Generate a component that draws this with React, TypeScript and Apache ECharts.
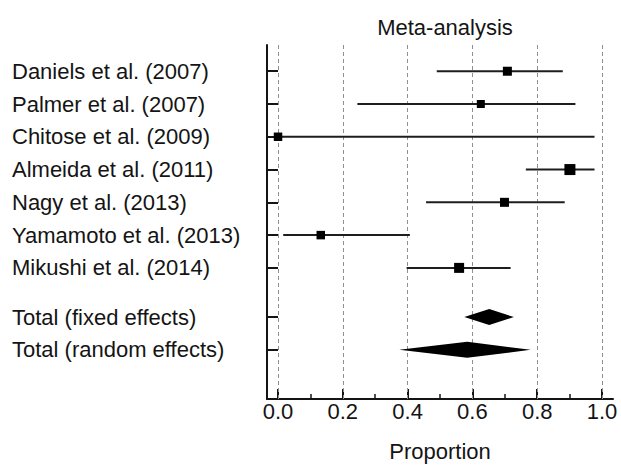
import React, { useEffect, useRef } from "react";
import * as echarts from "echarts";

const studies = [
  "Daniels et al. (2007)",
  "Palmer et al. (2007)",
  "Chitose et al. (2009)",
  "Almeida et al. (2011)",
  "Nagy et al. (2013)",
  "Yamamoto et al. (2013)",
  "Mikushi et al. (2014)",
];
const studyRows = [1, 2, 3, 4, 5, 6, 7];
const estimates = [0.708, 0.626, 0.0, 0.901, 0.699, 0.132, 0.559];
const lowerCI = [0.49, 0.245, 0.0, 0.765, 0.457, 0.016, 0.397];
const upperCI = [0.879, 0.918, 0.977, 0.977, 0.885, 0.407, 0.718];
const weights = [9, 8, 8.5, 11, 9, 8.5, 10];

const pooledNames = ["Total (fixed effects)", "Total (random effects)"];
const pooledRows = [8.5, 9.5];
const pooledEst = [0.652, 0.584];
const pooledLower = [0.575, 0.374];
const pooledUpper = [0.728, 0.78];

const majorTicks = [0, 0.2, 0.4, 0.6, 0.8, 1.0];
const minorTicks = [0.1, 0.3, 0.5, 0.7, 0.9];

const FONT = "'Liberation Sans', Arial, sans-serif";
const INK = "#141414";

export default function App() {
  const ref = useRef<HTMLDivElement>(null);
  useEffect(() => {
    if (!ref.current) return;
    const chart = echarts.init(ref.current, null, { renderer: "svg" });
    const allRows = [...studyRows, ...pooledRows];
    const allNames = [...studies, ...pooledNames];
    const rowName = (v: number) => {
      const i = allRows.findIndex((r) => Math.abs(r - v) < 1e-6);
      return i >= 0 ? allNames[i] : "";
    };
    const xCommon = {
      type: "value" as const,
      min: -0.034,
      max: 1.034,
      position: "bottom" as const,
      splitLine: { show: false },
    };
    chart.setOption({
      animation: false,
      title: {
        text: "Meta-analysis",
        left: 440,
        top: 11,
        textAlign: "center",
        textStyle: { fontFamily: FONT, fontSize: 22, fontWeight: "normal", color: INK },
      },
      grid: { left: 267, right: 8, top: 45, bottom: 65 },
      xAxis: [
        {
          ...xCommon,
          axisLine: { show: true, onZero: false, lineStyle: { color: INK, width: 2 } },
          axisTick: {
            show: true,
            inside: true,
            length: 10,
            customValues: majorTicks,
            lineStyle: { color: INK, width: 2 },
          },
          axisLabel: {
            show: true,
            customValues: majorTicks,
            margin: 1,
            formatter: (v: number) => v.toFixed(1),
            fontFamily: FONT,
            fontSize: 22,
            color: INK,
          },
          name: "Proportion",
          nameLocation: "middle",
          nameGap: 41,
          nameTextStyle: { fontFamily: FONT, fontSize: 22, color: INK },
        },
        {
          ...xCommon,
          axisLine: { show: false, onZero: false },
          axisTick: {
            show: true,
            inside: true,
            length: 5,
            customValues: minorTicks,
            lineStyle: { color: INK, width: 1.5 },
          },
          axisLabel: { show: false },
        },
      ],
      yAxis: {
        type: "value",
        inverse: true,
        min: 0.2,
        max: 11,
        splitLine: { show: false },
        axisLine: { show: true, onZero: false, lineStyle: { color: INK, width: 2 } },
        axisTick: {
          show: true,
          inside: true,
          length: 11,
          customValues: allRows,
          lineStyle: { color: INK, width: 2 },
        },
        axisLabel: {
          show: true,
          customValues: allRows,
          formatter: (v: number) => rowName(v),
          align: "left",
          margin: 255,
          fontFamily: FONT,
          fontSize: 22,
          color: INK,
        },
      },
      series: [
        {
          type: "scatter",
          data: [],
          silent: true,
          z: 1,
          markLine: {
            silent: true,
            symbol: "none",
            label: { show: false },
            lineStyle: { color: "#8f8f8f", width: 1, type: [4, 3] },
            data: majorTicks.map((v) => ({ xAxis: v })),
          },
        },
        {
          type: "custom",
          z: 5,
          silent: true,
          data: studies.map((_, i) => [lowerCI[i], upperCI[i], estimates[i], studyRows[i], weights[i]]),
          encode: { x: [0, 1, 2], y: 3 },
          renderItem: (params: any, api: any) => {
            const y = api.value(3);
            const lo = api.coord([api.value(0), y]);
            const hi = api.coord([api.value(1), y]);
            const est = api.coord([api.value(2), y]);
            const s = api.value(4);
            return {
              type: "group",
              children: [
                {
                  type: "line",
                  shape: { x1: lo[0], y1: lo[1], x2: hi[0], y2: hi[1] },
                  style: { stroke: "#1e1e1e", lineWidth: 2 },
                },
                {
                  type: "rect",
                  shape: { x: est[0] - s / 2, y: est[1] - s / 2, width: s, height: s },
                  style: { fill: "#000" },
                },
              ],
            };
          },
        },
        {
          type: "custom",
          z: 5,
          silent: true,
          data: pooledNames.map((_, i) => [pooledLower[i], pooledUpper[i], pooledEst[i], pooledRows[i]]),
          encode: { x: [0, 1, 2], y: 3 },
          renderItem: (params: any, api: any) => {
            const y = api.value(3);
            const lo = api.coord([api.value(0), y]);
            const hi = api.coord([api.value(1), y]);
            const est = api.coord([api.value(2), y]);
            const h = 8;
            return {
              type: "polygon",
              shape: {
                points: [
                  [lo[0], lo[1]],
                  [est[0], est[1] - h],
                  [hi[0], hi[1]],
                  [est[0], est[1] + h],
                ],
              },
              style: { fill: "#000" },
            };
          },
        },
      ],
    });
    return () => chart.dispose();
  }, []);
  return <div ref={ref} style={{ width: 621, height: 467, position: "absolute", left: 0, top: 0, background: "#fff" }} />;
}
